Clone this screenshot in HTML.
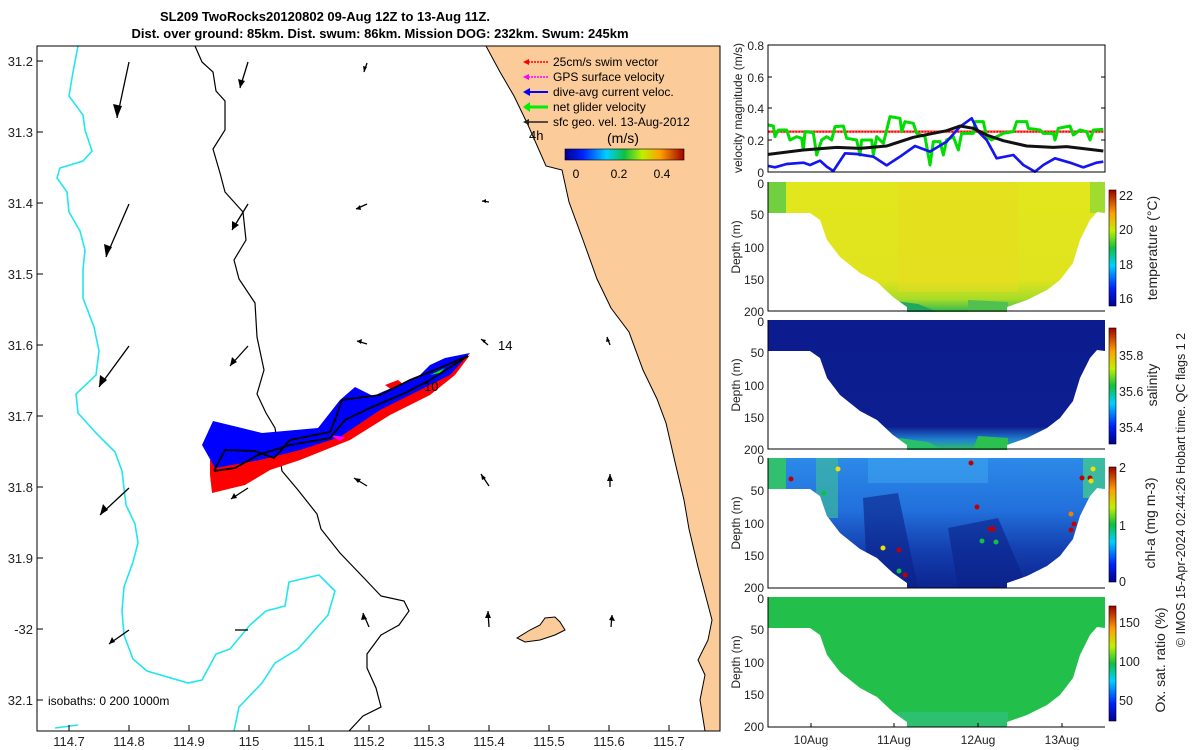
<!DOCTYPE html>
<html><head><meta charset="utf-8"><style>
body{margin:0;background:#fff;}
svg{display:block;font-family:"Liberation Sans","DejaVu Sans",sans-serif;}
</style></head><body>
<svg width="1200" height="750" viewBox="0 0 1200 750" xmlns="http://www.w3.org/2000/svg">
<defs>
<linearGradient id="jetv" x1="0" y1="1" x2="0" y2="0">
<stop offset="0" stop-color="#00008f"/><stop offset="0.15" stop-color="#0020ff"/><stop offset="0.35" stop-color="#00d0ff"/><stop offset="0.5" stop-color="#10c040"/><stop offset="0.65" stop-color="#c0f000"/><stop offset="0.8" stop-color="#ffa000"/><stop offset="1" stop-color="#a00000"/></linearGradient>
<linearGradient id="jeth" x1="0" y1="0" x2="1" y2="0">
<stop offset="0" stop-color="#00008f"/><stop offset="0.15" stop-color="#0020ff"/><stop offset="0.35" stop-color="#00d0ff"/><stop offset="0.5" stop-color="#10c040"/><stop offset="0.65" stop-color="#c0f000"/><stop offset="0.8" stop-color="#ffa000"/><stop offset="1" stop-color="#a00000"/></linearGradient>
<path id="sec" d="M0,0 L337,0 L337,31 L329,30 L322,38 L312,58 L305,81 L292,98 L279,108 L259,118 L239,125 L239,130 L139,130 L139,125 L125,115 L109,100 L92,91 L72,75 L59,58 L52,38 L42,31 L0,31 Z"/>
<clipPath id="secclip"><use href="#sec"/></clipPath>
<linearGradient id="tempg" x1="0" y1="0" x2="0" y2="1"><stop offset="0" stop-color="#e2e61c"/><stop offset="0.75" stop-color="#e0e41e"/><stop offset="0.9" stop-color="#a8dc28"/><stop offset="1" stop-color="#30b850"/></linearGradient>
<linearGradient id="salg" x1="0" y1="0" x2="0" y2="1"><stop offset="0" stop-color="#0c1c8e"/><stop offset="0.82" stop-color="#0c1e90"/><stop offset="0.92" stop-color="#2080d0"/><stop offset="1" stop-color="#30c060"/></linearGradient>
<linearGradient id="chlg" x1="0" y1="0" x2="0" y2="1"><stop offset="0" stop-color="#2c8ae8"/><stop offset="0.4" stop-color="#2270dc"/><stop offset="0.7" stop-color="#1440b0"/><stop offset="1" stop-color="#0c2490"/></linearGradient>
</defs>

<text x="325" y="21" font-size="13" font-weight="bold" text-anchor="middle">SL209 TwoRocks20120802 09-Aug 12Z to 13-Aug 11Z.</text>
<text x="380" y="38" font-size="13" font-weight="bold" text-anchor="middle">Dist. over ground: 85km. Dist. swum: 86km. Mission DOG: 232km. Swum: 245km</text>

<g>
<clipPath id="mapclip"><rect x="37" y="46" width="683" height="685"/></clipPath>
<g clip-path="url(#mapclip)">
<path d="M486,46 L500,72 L514,96 L528,125 L546,166 L562,170 L569,202 L583,240 L597,279 L611,308 L629,332 L643,370 L657,399 L666,423 L675,462 L684,500 L689,529 L698,567 L707,601 L712,620 L708,640 L698,660 L705,675 L700,700 L705,731 L720,731 L720,46 Z" fill="#fbcb99" stroke="#000" stroke-width="1"/>
<path d="M517,638 L530,630 L540,625 L545,618 L555,617 L560,622 L565,630 L555,635 L540,640 L525,642 Z" fill="#fbcb99" stroke="#000" stroke-width="1"/>
<path d="M78,46 L73,72 L69,96 L83,115 L85,130 L92,151 L83,161 L60,168 L57,178 L67,192 L69,212 L80,231 L85,250 L83,269 L83,298 L94,327 L99,351 L96,375 L76,394 L78,413 L96,433 L115,452 L122,471 L126,505 L135,524 L138,543 L133,562 L124,587 L122,611 L124,635 L133,659 L147,671 L188,683 L202,680 L216,654 L230,649 L250,625 L266,611 L285,606 L289,582 L319,575 L335,591 L328,615 L298,649 L275,663 L262,683 L239,707 L234,731" fill="none" stroke="#22e6ee" stroke-width="1.6"/>
<path d="M55,728 L78,725" fill="none" stroke="#22e6ee" stroke-width="1.6"/>
<path d="M195,46 L202,62 L213,72 L216,91 L225,101 L225,130 L213,149 L220,173 L225,192 L243,212 L246,240 L234,260 L239,279 L255,303 L257,337 L264,370 L257,394 L266,413 L275,428 L282,471 L298,490 L317,514 L321,529 L340,553 L363,577 L381,596 L404,601 L409,611 L399,625 L381,635 L367,654 L367,668 L376,688 L381,707 L363,716 L349,731" fill="none" stroke="#000" stroke-width="1.2"/>
</g>
<path d="M210,460 L260,455 L300,440 L340,420 L380,400 L420,385 L470,355 L455,375 L430,395 L390,415 L350,440 L300,460 L270,470 L245,485 L212,493 L210,475 Z" fill="#ff0000"/>
<path d="M385,385 L398,380 L410,390 L395,392 Z" fill="#ff0000"/>
<path d="M202,445 L213,421 L262,433 L318,428 L340,400 L355,387 L373,396 L410,380 L420,375 L430,365 L445,358 L470,353 L450,375 L420,390 L380,410 L340,437 L300,450 L260,460 L215,468 Z" fill="#0000ff"/>
<path d="M330,435 L345,437 L340,441 Z" fill="#ff00ff"/>
<path d="M430,375 L445,368 L440,373 Z" fill="#00ee00"/>
<path d="M214,471 L225,450 L255,451 L274,458 L290,440 L330,432 L335,420 L342,400 L357,398 L380,395 L410,380 L430,372 L468,356" fill="none" stroke="#000" stroke-width="1.8"/>
<path d="M214,471 L235,468 L258,455 L290,445 L330,438 L345,420 L370,408 L405,393 L430,380 L468,356" fill="none" stroke="#000" stroke-width="1.8"/>
<g stroke="#000" stroke-width="1.3" fill="none">
<line x1="129" y1="62" x2="117" y2="118"/><line x1="248" y1="62" x2="240" y2="88"/><line x1="367" y1="63" x2="364" y2="72"/>
<line x1="129" y1="204" x2="106" y2="257"/><line x1="248" y1="204" x2="232" y2="230"/><line x1="367" y1="204" x2="356" y2="209"/><line x1="489" y1="202" x2="482" y2="201"/>
<line x1="129" y1="346" x2="99" y2="387"/><line x1="248" y1="346" x2="230" y2="366"/><line x1="367" y1="344" x2="357" y2="341"/><line x1="488" y1="345" x2="481" y2="339"/><line x1="610" y1="345" x2="607" y2="337"/>
<line x1="129" y1="488" x2="100" y2="515"/><line x1="248" y1="488" x2="231" y2="499"/><line x1="367" y1="486" x2="354" y2="478"/><line x1="489" y1="486" x2="481" y2="474"/><line x1="610" y1="487" x2="610" y2="474"/>
<line x1="129" y1="630" x2="109" y2="644"/><line x1="248" y1="630" x2="235" y2="630"/><line x1="369" y1="627" x2="363" y2="613"/><line x1="489" y1="627" x2="488" y2="611"/><line x1="611" y1="627" x2="612" y2="615"/>
</g>
<g fill="#000">
<polygon points="117,118 113,104 122,106"/><polygon points="240,88 238,79 245,81"/><polygon points="106,257 104,244 112,247"/><polygon points="232,230 232,221 239,225"/>
<polygon points="99,387 100,375 107,380"/><polygon points="230,366 232,357 237,362"/><polygon points="100,515 103,504 108,510"/><polygon points="231,499 234,493 237,498"/>
<polygon points="109,644 112,637 115,642"/><polygon points="354,478 361,479 358,483"/><polygon points="481,474 486,478 482,480"/><polygon points="610,474 613,481 607,481"/>
<polygon points="363,613 367,619 361,620"/><polygon points="488,611 491,618 485,618"/><polygon points="612,615 615,621 609,620"/><polygon points="356,209 360,205 361,210"/><polygon points="357,341 362,339 361,344"/>
<polygon points="364,72 363,66 367,67"/><polygon points="482,201 486,199 486,203"/><polygon points="481,339 486,340 484,343"/><polygon points="607,337 610,341 606,342"/>
</g>
<text x="498" y="350" font-size="13">14</text>
<text x="424" y="391" font-size="13">10</text>
<g font-size="12">
<line x1="525" y1="62" x2="548" y2="62" stroke="#ff0000" stroke-width="1.5" stroke-dasharray="2,1"/><polygon points="523,62 529,59 529,65" fill="#ff0000"/>
<text x="553" y="66">25cm/s swim vector</text>
<line x1="525" y1="77" x2="548" y2="77" stroke="#ff00ff" stroke-width="1.5" stroke-dasharray="2,1"/><polygon points="523,77 529,74 529,80" fill="#ff00ff"/>
<text x="553" y="81">GPS surface velocity</text>
<line x1="525" y1="92" x2="548" y2="92" stroke="#0000ff" stroke-width="2"/><polygon points="523,92 530,88 530,96" fill="#0000ff"/>
<text x="553" y="96">dive-avg current veloc.</text>
<line x1="525" y1="107" x2="548" y2="107" stroke="#00ee00" stroke-width="3"/><polygon points="523,107 530,102 530,112" fill="#00ee00"/>
<text x="553" y="111">net glider velocity</text>
<line x1="525" y1="122" x2="548" y2="122" stroke="#222" stroke-width="1.5"/><polygon points="523,122 529,119 529,125" fill="#222"/>
<text x="553" y="126">sfc geo. vel. 13-Aug-2012</text>
<text x="529" y="140" font-size="13">4h</text>
<text x="607" y="143" font-size="14">(m/s)</text>
<rect x="565" y="149" width="119" height="11" fill="url(#jeth)" stroke="#000" stroke-width="0.6"/>
<text x="576" y="178" text-anchor="middle">0</text><text x="619" y="178" text-anchor="middle">0.2</text><text x="662" y="178" text-anchor="middle">0.4</text>
</g>
<text x="48" y="705" font-size="12">isobaths: 0   200  1000m</text>
<rect x="37" y="46" width="683" height="685" fill="none" stroke="#000" stroke-width="1"/>
<g stroke="#000" stroke-width="1">
<line x1="37" y1="61" x2="43" y2="61"/><line x1="37" y1="132" x2="43" y2="132"/><line x1="37" y1="203" x2="43" y2="203"/><line x1="37" y1="274" x2="43" y2="274"/><line x1="37" y1="345" x2="43" y2="345"/><line x1="37" y1="416" x2="43" y2="416"/><line x1="37" y1="487" x2="43" y2="487"/><line x1="37" y1="558" x2="43" y2="558"/><line x1="37" y1="629" x2="43" y2="629"/><line x1="37" y1="700" x2="43" y2="700"/>
<line x1="69" y1="731" x2="69" y2="725"/><line x1="129" y1="731" x2="129" y2="725"/><line x1="189" y1="731" x2="189" y2="725"/><line x1="249" y1="731" x2="249" y2="725"/><line x1="309" y1="731" x2="309" y2="725"/><line x1="369" y1="731" x2="369" y2="725"/><line x1="429" y1="731" x2="429" y2="725"/><line x1="489" y1="731" x2="489" y2="725"/><line x1="549" y1="731" x2="549" y2="725"/><line x1="609" y1="731" x2="609" y2="725"/><line x1="669" y1="731" x2="669" y2="725"/>
</g>
<g font-size="13" fill="#222" text-anchor="end">
<text x="33" y="66">31.2</text><text x="33" y="137">31.3</text><text x="33" y="208">31.4</text><text x="33" y="279">31.5</text><text x="33" y="350">31.6</text><text x="33" y="421">31.7</text><text x="33" y="492">31.8</text><text x="33" y="563">31.9</text><text x="33" y="634">-32</text><text x="33" y="705">32.1</text>
</g>
<g font-size="13" fill="#222" text-anchor="middle">
<text x="69" y="746">114.7</text><text x="129" y="746">114.8</text><text x="189" y="746">114.9</text><text x="249" y="746">115</text><text x="309" y="746">115.1</text><text x="369" y="746">115.2</text><text x="429" y="746">115.3</text><text x="489" y="746">115.4</text><text x="549" y="746">115.5</text><text x="609" y="746">115.6</text><text x="669" y="746">115.7</text>
</g>
</g>

<g transform="translate(720,40) scale(0.33333)" fill="none" stroke-linejoin="round">
<line x1="145" y1="275" x2="1150" y2="275" stroke="#ff9090" stroke-width="9"/>
<line x1="145" y1="275" x2="1150" y2="275" stroke="#ee0000" stroke-width="5" stroke-dasharray="6,3"/>
<polyline stroke="#00dd00" stroke-width="9" points="145,255 160,258 165,290 175,270 200,270 210,300 230,290 245,295 250,330 255,275 280,278 290,345 305,300 320,290 335,300 345,260 370,258 380,295 410,300 420,345 425,300 455,300 460,345 470,290 490,310 510,230 540,235 545,275 555,245 580,250 590,280 615,290 630,375 640,305 660,305 670,345 680,300 700,290 715,330 725,280 760,280 765,245 790,245 800,290 815,300 830,290 850,280 880,275 890,245 920,245 925,265 960,270 970,280 1000,280 1005,300 1015,265 1050,258 1060,285 1080,270 1100,275 1110,300 1120,270 1150,268"/>
<polyline stroke="#1515f0" stroke-width="8" points="145,378 165,382 200,372 250,368 270,375 300,362 320,380 340,393 375,340 410,342 460,350 500,376 540,350 585,318 630,335 680,305 720,260 755,235 775,275 800,300 830,355 880,345 910,375 945,395 970,375 1005,355 1050,368 1090,382 1130,368 1150,365"/>
<polyline stroke="#111" stroke-width="9" points="145,343 250,330 350,322 420,325 500,318 580,292 680,272 720,258 760,265 800,285 850,302 920,318 1000,322 1040,320 1100,327 1150,333"/>
</g>
<rect x="768" y="45" width="337" height="127" fill="none" stroke="#000" stroke-width="1"/>
<g stroke="#000"><line x1="768" y1="77" x2="772" y2="77"/><line x1="768" y1="108" x2="772" y2="108"/><line x1="768" y1="140" x2="772" y2="140"/><line x1="1105" y1="77" x2="1101" y2="77"/><line x1="1105" y1="108" x2="1101" y2="108"/><line x1="1105" y1="140" x2="1101" y2="140"/></g>
<g font-size="12" fill="#222" text-anchor="end">
<text x="764" y="50">0.8</text><text x="764" y="82">0.6</text><text x="764" y="113">0.4</text><text x="764" y="145">0.2</text><text x="764" y="177">0</text>
</g>
<text transform="translate(742,108) rotate(-90)" font-size="12" fill="#222" text-anchor="middle">velocity magnitude (m/s)</text>

<g transform="translate(768,182)">
<use href="#sec" fill="url(#tempg)"/>
<g clip-path="url(#secclip)">
<rect x="0" y="0" width="18" height="31" fill="#70d040"/><rect x="322" y="0" width="15" height="31" fill="#a0dc30"/>
<rect x="130" y="0" width="120" height="110" fill="#e8dc20" opacity="0.5"/>
<path d="M120,118 L150,122 L170,130 L120,130 Z" fill="#20a860"/>
<path d="M200,118 L240,120 L240,130 L200,130 Z" fill="#50c050"/>
</g>
</g>
<g transform="translate(768,320)">
<use href="#sec" fill="url(#salg)"/>
<g clip-path="url(#secclip)">
<path d="M130,118 L160,122 L175,130 L120,130 Z" fill="#28c068"/>
<path d="M210,116 L240,118 L240,130 L205,130 Z" fill="#2cc050"/>
</g>
</g>
<g transform="translate(768,458)">
<use href="#sec" fill="url(#chlg)"/>
<g clip-path="url(#secclip)">
<rect x="0" y="0" width="18" height="31" fill="#30c070"/><rect x="48" y="0" width="22" height="60" fill="#3cb8a0" opacity="0.7"/>
<rect x="315" y="0" width="22" height="40" fill="#40c890" opacity="0.8"/>
<rect x="100" y="0" width="120" height="25" fill="#40a8f0" opacity="0.5"/>
<path d="M95,40 L130,35 L150,130 L100,130 Z" fill="#0c2288" opacity="0.6"/>
<path d="M180,70 L230,60 L260,130 L190,130 Z" fill="#0c2288" opacity="0.6"/>
<g fill="#c00000"><circle cx="23" cy="21" r="2.5"/><circle cx="27" cy="34" r="2.5"/><circle cx="203" cy="5" r="2.5"/><circle cx="209" cy="49" r="2.5"/><circle cx="225" cy="71" r="2.5"/><circle cx="222" cy="71" r="2.5"/><circle cx="131" cy="92" r="2.5"/><circle cx="137" cy="117" r="2.5"/><circle cx="314" cy="20" r="2.5"/><circle cx="322" cy="20" r="2.5"/><circle cx="306" cy="66" r="2.5"/><circle cx="303" cy="72" r="2.5"/></g>
<g fill="#f0e000"><circle cx="70" cy="11" r="2.5"/><circle cx="115" cy="90" r="2.5"/><circle cx="325" cy="11" r="2.5"/><circle cx="323" cy="23" r="2.5"/></g>
<g fill="#f08000"><circle cx="113" cy="108" r="2.5"/><circle cx="115" cy="115" r="2.5"/><circle cx="303" cy="56" r="2.5"/></g>
<g fill="#10c040"><circle cx="131" cy="113" r="2.5"/><circle cx="214" cy="83" r="2.5"/><circle cx="228" cy="84" r="2.5"/><circle cx="56" cy="35" r="2.5"/></g>
</g>
</g>
<g transform="translate(768,597)">
<use href="#sec" fill="#22c04a"/>
<g clip-path="url(#secclip)"><rect x="130" y="115" width="110" height="15" fill="#2cc070"/></g>
</g>

<g fill="none" stroke="#000" stroke-width="1">
<path d="M768,182 L768,311 L1105,311"/><path d="M768,320 L768,449 L1105,449"/><path d="M768,458 L768,588 L1105,588"/><path d="M768,597 L768,727 L1105,727"/>
</g>
<g stroke="#000">
<line x1="811" y1="727" x2="811" y2="723"/><line x1="894" y1="727" x2="894" y2="723"/><line x1="978" y1="727" x2="978" y2="723"/><line x1="1062" y1="727" x2="1062" y2="723"/>
</g>
<g font-size="12" fill="#222" text-anchor="end">
<text x="764" y="188">0</text><text x="764" y="219">50</text><text x="764" y="252">100</text><text x="764" y="284">150</text><text x="764" y="316">200</text>
<text x="764" y="326">0</text><text x="764" y="357">50</text><text x="764" y="390">100</text><text x="764" y="422">150</text><text x="764" y="454">200</text>
<text x="764" y="464">0</text><text x="764" y="495">50</text><text x="764" y="528">100</text><text x="764" y="560">150</text><text x="764" y="592">200</text>
<text x="764" y="603">0</text><text x="764" y="634">50</text><text x="764" y="667">100</text><text x="764" y="699">150</text><text x="764" y="731">200</text>
</g>
<g font-size="12" fill="#222" text-anchor="middle">
<text transform="translate(740,247) rotate(-90)">Depth (m)</text>
<text transform="translate(740,385) rotate(-90)">Depth (m)</text>
<text transform="translate(740,523) rotate(-90)">Depth (m)</text>
<text transform="translate(740,662) rotate(-90)">Depth (m)</text>
</g>
<g font-size="12" fill="#222" text-anchor="middle">
<text x="811" y="744">10Aug</text><text x="894" y="744">11Aug</text><text x="978" y="744">12Aug</text><text x="1062" y="744">13Aug</text>
</g>

<g stroke="#000" stroke-width="0.6">
<rect x="1109" y="190" width="7" height="116" fill="url(#jetv)"/>
<rect x="1109" y="328" width="7" height="116" fill="url(#jetv)"/>
<rect x="1109" y="467" width="7" height="115" fill="url(#jetv)"/>
<rect x="1109" y="606" width="7" height="115" fill="url(#jetv)"/>
</g>
<g font-size="12.5" fill="#222">
<text x="1119" y="200">22</text><text x="1119" y="234">20</text><text x="1119" y="269">18</text><text x="1119" y="303">16</text>
<text x="1119" y="360">35.8</text><text x="1119" y="396">35.6</text><text x="1119" y="432">35.4</text>
<text x="1119" y="472">2</text><text x="1119" y="530">1</text><text x="1119" y="586">0</text>
<text x="1119" y="627">150</text><text x="1119" y="666">100</text><text x="1119" y="705">50</text>
</g>
<g font-size="14" fill="#222" text-anchor="middle">
<text transform="translate(1157,248) rotate(-90)">temperature (°C)</text>
<text transform="translate(1157,385) rotate(-90)">salinity</text>
<text transform="translate(1155,523) rotate(-90)">chl-a (mg m-3)</text>
<text transform="translate(1165,660) rotate(-90)">Ox. sat. ratio (%)</text>
</g>
<text transform="translate(1185,490) rotate(-90)" font-size="12.5" fill="#222" text-anchor="middle">© IMOS 15-Apr-2024 02:44:26 Hobart time. QC flags 1  2</text>
</svg>
</body></html>
